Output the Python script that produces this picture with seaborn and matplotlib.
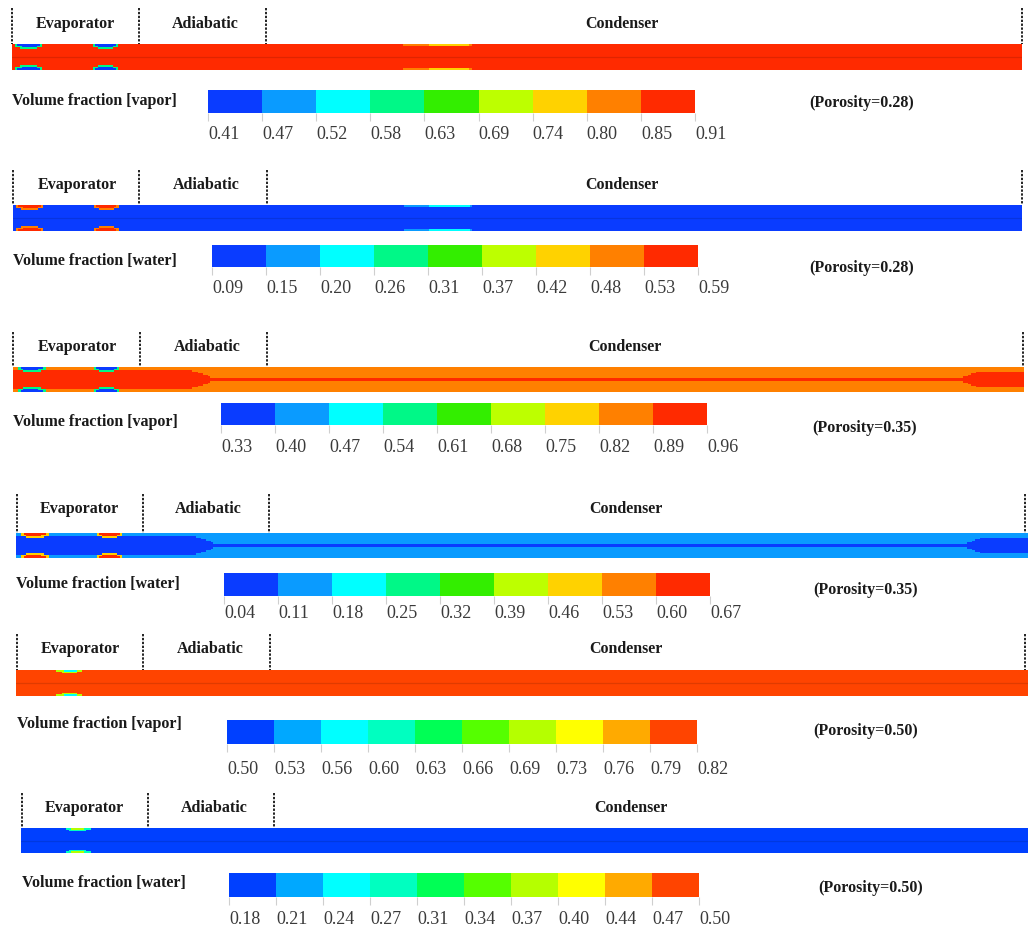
import numpy as np
import seaborn as sns
from matplotlib import pyplot as plt
from matplotlib.colors import ListedColormap

# ---- data ----
regions = ["Evaporator", "Adiabatic", "Condenser"]
phases = ["vapor", "water", "vapor", "water", "vapor", "water"]
porosity = ["0.28", "0.28", "0.35", "0.35", "0.50", "0.50"]

edges_vapor_028 = [0.41, 0.47, 0.52, 0.58, 0.63, 0.69, 0.74, 0.80, 0.85, 0.91]
edges_water_028 = [0.09, 0.15, 0.20, 0.26, 0.31, 0.37, 0.42, 0.48, 0.53, 0.59]
edges_vapor_035 = [0.33, 0.40, 0.47, 0.54, 0.61, 0.68, 0.75, 0.82, 0.89, 0.96]
edges_water_035 = [0.04, 0.11, 0.18, 0.25, 0.32, 0.39, 0.46, 0.53, 0.60, 0.67]
edges_vapor_050 = [0.50, 0.53, 0.56, 0.60, 0.63, 0.66, 0.69, 0.73, 0.76, 0.79, 0.82]
edges_water_050 = [0.18, 0.21, 0.24, 0.27, 0.31, 0.34, 0.37, 0.40, 0.44, 0.47, 0.50]

colors_9 = ["#0a3cff", "#0a9bff", "#00ffff", "#00f887", "#33ee00",
            "#bdff00", "#ffd200", "#ff8000", "#ff2a00"]
colors_10 = ["#0040ff", "#00a8ff", "#00ffff", "#00ffc0", "#00ff55",
             "#55ff00", "#b5ff00", "#ffff00", "#ffaa00", "#ff4400"]

# volume fraction in the bulk of the pipe and in the core
bulk_fraction = [0.88, 0.12, 0.85, 0.14, 0.80, 0.20]
core_fraction = [None, None, 0.92, 0.07, None, None]

# core shape: (axial start, axial end, half width in cells), axial position 0..1
core_shape = [(0.000, 0.178, 6), (0.178, 0.183, 5), (0.183, 0.188, 4),
              (0.188, 0.192, 3), (0.192, 0.196, 2), (0.196, 0.940, 1),
              (0.940, 0.944, 2), (0.944, 0.948, 3), (0.948, 0.952, 4),
              (0.952, 1.000, 5)]

# wall patches: (axial start, axial end, depth in cells, volume fraction)
wall_vapor_028 = [(0.003, 0.031, 2, 0.62), (0.008, 0.026, 3, 0.62),
                  (0.006, 0.028, 1, 0.44), (0.009, 0.025, 2, 0.44),
                  (0.080, 0.106, 2, 0.62), (0.085, 0.101, 3, 0.62),
                  (0.083, 0.103, 1, 0.44), (0.086, 0.100, 2, 0.44),
                  (0.388, 0.455, 1, 0.82), (0.413, 0.452, 1, 0.77)]
wall_water_028 = [(0.003, 0.031, 2, 0.50), (0.008, 0.026, 3, 0.50),
                  (0.006, 0.028, 1, 0.56), (0.009, 0.025, 2, 0.56),
                  (0.080, 0.106, 2, 0.50), (0.085, 0.101, 3, 0.50),
                  (0.083, 0.103, 1, 0.56), (0.086, 0.100, 2, 0.56),
                  (0.388, 0.455, 1, 0.17), (0.413, 0.452, 1, 0.22)]
wall_vapor_035 = [(0.004, 0.032, 2, 0.55), (0.009, 0.027, 3, 0.55),
                  (0.007, 0.029, 1, 0.36), (0.010, 0.026, 2, 0.36),
                  (0.080, 0.106, 2, 0.55), (0.085, 0.101, 3, 0.55),
                  (0.083, 0.103, 1, 0.36), (0.086, 0.100, 2, 0.36)]
wall_water_035 = [(0.004, 0.032, 2, 0.50), (0.009, 0.027, 3, 0.50),
                  (0.007, 0.029, 1, 0.64), (0.010, 0.026, 2, 0.64),
                  (0.080, 0.106, 2, 0.50), (0.085, 0.101, 3, 0.50),
                  (0.083, 0.103, 1, 0.64), (0.086, 0.100, 2, 0.64)]
wall_vapor_050 = [(0.041, 0.065, 1, 0.70), (0.045, 0.061, 2, 0.70),
                  (0.047, 0.059, 1, 0.58)]
wall_water_050 = [(0.044, 0.069, 1, 0.28), (0.048, 0.065, 2, 0.28),
                  (0.050, 0.063, 1, 0.38)]

edge_sets = [edges_vapor_028, edges_water_028, edges_vapor_035,
             edges_water_035, edges_vapor_050, edges_water_050]
wall_sets = [wall_vapor_028, wall_water_028, wall_vapor_035,
             wall_water_035, wall_vapor_050, wall_water_050]

# ---- layout in pixels ----
W, H = 1028, 931
layout = [
    dict(strip=(12, 1022, 44, 70), dashes=[12, 139, 266, 1022], top=8, hy=24,
         centers=(75, 205, 622), cbar=(208, 695, 90, 113), ty=132, label=(12, 101), por=(862, 103)),
    dict(strip=(13, 1022, 205, 231), dashes=[13, 139, 267, 1022], top=170, hy=185,
         centers=(77, 206, 622), cbar=(212, 698, 245, 267), ty=286, label=(13, 261), por=(862, 268)),
    dict(strip=(13, 1024, 367, 392), dashes=[13, 140, 267, 1023], top=332, hy=347,
         centers=(77, 207, 625), cbar=(221, 707, 403, 425), ty=445, label=(13, 422), por=(865, 428)),
    dict(strip=(16, 1028, 533, 558), dashes=[17, 143, 269, 1025], top=494, hy=509,
         centers=(79, 208, 626), cbar=(224, 710, 573, 596), ty=611, label=(16, 584), por=(866, 590)),
    dict(strip=(16, 1028, 670, 696), dashes=[17, 143, 270, 1025], top=634, hy=649,
         centers=(80, 210, 626), cbar=(227, 697, 720, 744), ty=767, label=(17, 724), por=(866, 731)),
    dict(strip=(21, 1028, 828, 853), dashes=[22, 148, 274], top=793, hy=808,
         centers=(84, 214, 631), cbar=(229, 699, 873, 897), ty=917, label=(22, 883), por=(871, 888)),
]

NX, NY = 400, 16

sns.set_style("white")
plt.rcParams["font.family"] = ["Liberation Serif", "DejaVu Serif"]


def box(x0, x1, y0, y1):
    return [x0 / W, 1 - y1 / H, (x1 - x0) / W, (y1 - y0) / H]


def build_field(bulk, core, walls):
    field = np.full((NY, NX), bulk)
    xs = (np.arange(NX) + 0.5) / NX
    if core is not None:
        for x0, x1, hw in core_shape:
            cols = (xs >= x0) & (xs < x1)
            field[NY // 2 - hw:NY // 2 + hw, cols] = core
    for x0, x1, depth, val in walls:
        cols = (xs >= x0) & (xs < x1)
        field[:depth, cols] = val
        field[NY - depth:, cols] = val
    return field


fig = plt.figure(figsize=(W / 100, H / 100), dpi=100)
ax0 = fig.add_axes([0, 0, 1, 1])
ax0.set_xlim(0, W)
ax0.set_ylim(H, 0)
ax0.axis("off")

for i, lay in enumerate(layout):
    edges = edge_sets[i]
    n = len(edges) - 1
    cmap = ListedColormap(colors_9 if n == 9 else colors_10)

    # pipe contour strip
    field = build_field(bulk_fraction[i], core_fraction[i], wall_sets[i])
    lev = np.digitize(field, edges[1:-1])
    ax_s = fig.add_axes(box(*lay["strip"]))
    sns.heatmap(lev, cmap=cmap, vmin=-0.5, vmax=n - 0.5, cbar=False,
                xticklabels=False, yticklabels=False, ax=ax_s)
    if core_fraction[i] is None:
        ax_s.axhline(NY / 2, color="black", alpha=0.12, lw=0.9)

    # section dividers and names
    for xd in lay["dashes"]:
        ax0.plot([xd, xd], [lay["top"], lay["strip"][2]], color="#222222",
                 lw=1.4, linestyle=(0, (1.2, 0.8)))
    for name, xc in zip(regions, lay["centers"]):
        ax0.text(xc, lay["hy"], name, ha="center", va="center",
                 fontsize=11.5, fontweight="bold", color="#1a1a1a")

    # colour bar
    ax_c = fig.add_axes(box(*lay["cbar"]))
    sns.heatmap(np.arange(n)[None, :], cmap=cmap, vmin=-0.5, vmax=n - 0.5,
                cbar=False, yticklabels=False, ax=ax_c)
    ax_c.set_xticks(np.arange(n + 1))
    ax_c.set_xticklabels(["%.2f" % v for v in edges], rotation=0)
    pad_px = lay["ty"] - lay["cbar"][3] - 14
    ax_c.tick_params(axis="x", bottom=True, length=6, width=0.8, color="#cfcfcf",
                     labelsize=13, labelcolor="#3a3a3a", pad=max(pad_px, 1) * 0.72)
    for t in ax_c.get_xticklabels():
        t.set_ha("left")

    ax0.text(lay["label"][0], lay["label"][1], "Volume fraction [%s]" % phases[i],
             ha="left", va="center", fontsize=11.5, fontweight="bold", color="#1a1a1a")
    ax0.text(lay["por"][0], lay["por"][1], "(Porosity=%s)" % porosity[i],
             ha="center", va="center", fontsize=11.5, fontweight="bold", color="#1a1a1a")

plt.savefig("out.png", dpi=100)
